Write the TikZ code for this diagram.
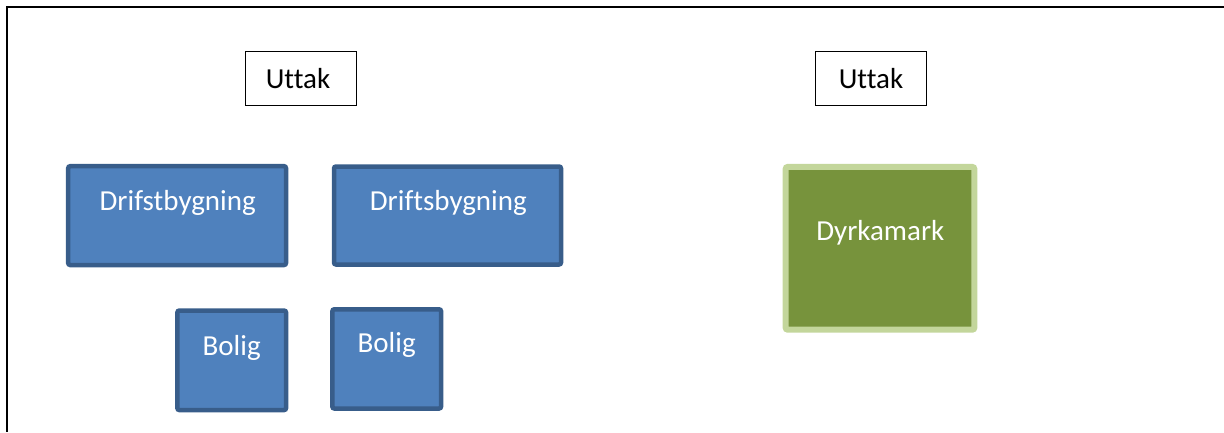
\documentclass[tikz,border=0pt]{standalone}
\usepackage{fontspec}
\setmainfont{Carlito}[Ligatures=NoCommon]
\definecolor{bfill}{HTML}{4F81BD}
\definecolor{bline}{HTML}{385D8A}
\definecolor{gfill}{HTML}{77933C}
\definecolor{gline}{HTML}{C3D69B}
\tikzset{
  bbox/.style={draw=bline, fill=bfill, line width=4.5pt, rounded corners=2pt, inner sep=0pt},
  gbox/.style={draw=gline, fill=gfill, line width=6pt, rounded corners=2pt, inner sep=0pt},
  ubox/.style={draw=black, line width=1.3pt, inner sep=0pt},
  wtxt/.style={text=white, font=\fontsize{29}{34}\selectfont, anchor=base, inner sep=0pt},
  ktxt/.style={text=black, font=\fontsize{29}{34}\selectfont, anchor=base, inner sep=0pt},
  frame/.style={line width=1.5pt}
}
\begin{document}
\begin{tikzpicture}[x=1pt,y=-1pt]
\useasboundingbox (0,0) rectangle (1224,432);
\coordinate (tl) at (7,7);
\coordinate (tr) at (1224,7);
\coordinate (bl) at (7,432);
\draw[frame] (tr) -- (tl) -- (bl);

\node[ubox, minimum width=111pt, minimum height=54pt] (u1) at (301,78.5) {};
\node[ktxt] (u1t) at (298,88) {Uttak};
\node[ubox, minimum width=111pt, minimum height=54pt] (u2) at (871.3,78.8) {};
\node[ktxt] (u2t) at (871,88) {Uttak};

\node[bbox, minimum width=217.8pt, minimum height=98.8pt] (d1) at (177.1,215.6) {};
\node[wtxt] (d1t) at (177.7,210) {Drifstbygning};
\node[bbox, minimum width=227pt, minimum height=98pt] (d2) at (447.5,215.5) {};
\node[wtxt] (d2t) at (448.3,210) {Driftsbygning};

\node[bbox, minimum width=108.7pt, minimum height=99.5pt] (b1) at (231.7,360.3) {};
\node[wtxt] (b1t) at (231.7,355) {Bolig};
\node[bbox, minimum width=108.7pt, minimum height=99.2pt] (b2) at (386.7,358.9) {};
\node[wtxt] (b2t) at (386.7,352.3) {Bolig};

\node[gbox, minimum width=188.6pt, minimum height=162.7pt] (dy) at (880,248.3) {};
\node[wtxt] (dyt) at (880.3,240) {Dyrkamark};
\end{tikzpicture}
\end{document}
